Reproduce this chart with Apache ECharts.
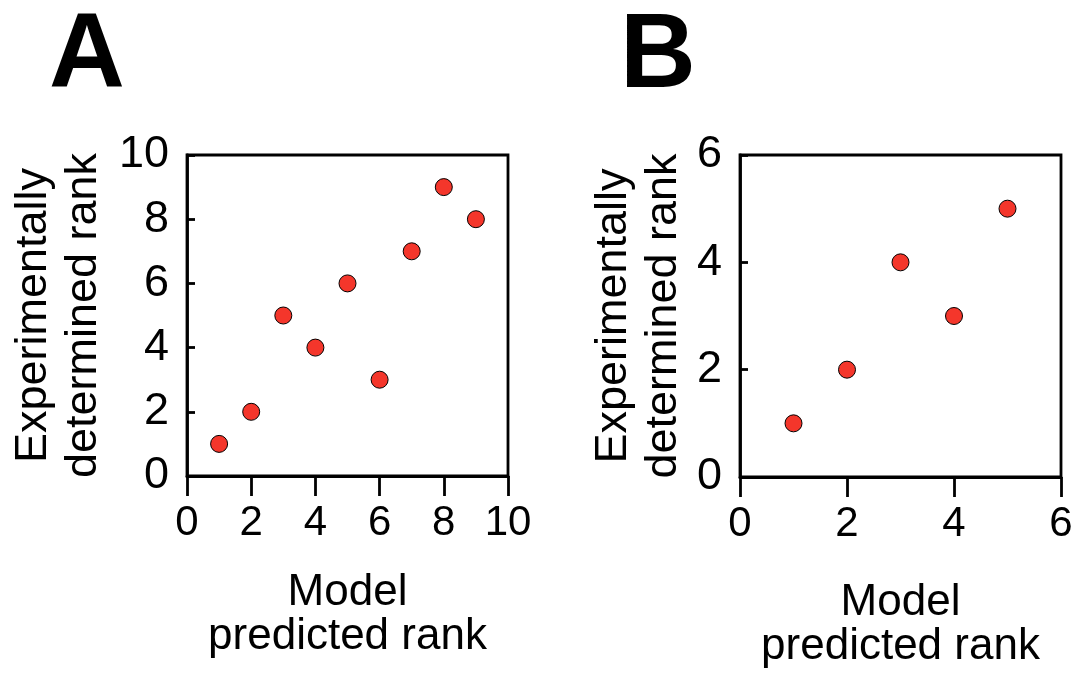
<!DOCTYPE html>
<html>
<head>
<meta charset="utf-8">
<script src="https://cdn.jsdelivr.net/npm/echarts@6/dist/echarts.min.js"></script>
<style>
  html, body { margin: 0; padding: 0; background: #fff; }
  #chart { width: 1078px; height: 674px; }
</style>
</head>
<body>
<div id="chart"></div>
<script>
// panel A: model predicted rank vs experimentally determined rank
const predictedA = [1, 2, 3, 4, 5, 6, 7, 8, 9]
const measuredA = [1, 2, 5, 4, 6, 3, 7, 9, 8]
// panel B
const predictedB = [1, 2, 3, 4, 5]
const measuredB = [1, 2, 4, 3, 5]

const panelLabels = ['A', 'B']
const xTitle = 'Model\npredicted rank'
const yTitle = 'Experimentally\ndetermined rank'

const font = 'Liberation Sans, Arial, sans-serif'
const dotColor = '#F4362B'

const chart = echarts.init(document.getElementById('chart'))

const xAxisFor = (gridIndex, max, gap) => ({
  gridIndex,
  type: 'value',
  min: 0,
  max,
  interval: 2,
  name: xTitle,
  nameLocation: 'middle',
  nameGap: gap,
  nameTextStyle: { fontFamily: font, fontSize: 44, lineHeight: 44, color: '#000' },
  axisLine: { show: true, onZero: false, lineStyle: { color: '#000', width: 2.8 } },
  axisTick: { show: true, inside: false, length: 20, lineStyle: { color: '#000', width: 2.8 } },
  axisLabel: { fontFamily: font, fontSize: 42, color: '#000', margin: 26 },
  splitLine: { show: false },
})

const yAxisFor = (gridIndex, max, gap) => ({
  gridIndex,
  type: 'value',
  min: 0,
  max,
  interval: 2,
  name: yTitle,
  nameLocation: 'middle',
  nameRotate: 90,
  nameGap: gap,
  nameTextStyle: { fontFamily: font, fontSize: 45, lineHeight: 50, color: '#000' },
  axisLine: { show: true, onZero: false, lineStyle: { color: '#000', width: 2.8 } },
  axisTick: { show: true, inside: true, length: 8, lineStyle: { color: '#000', width: 2.8 } },
  axisLabel: { fontFamily: font, fontSize: 45, color: '#000', margin: 18 },
  splitLine: { show: false },
})

const dots = (xs, ys, idx) => ({
  type: 'scatter',
  xAxisIndex: idx,
  yAxisIndex: idx,
  data: xs.map((x, i) => [x, ys[i]]),
  symbol: 'circle',
  symbolSize: 17,
  itemStyle: { color: dotColor, borderColor: '#000', borderWidth: 1, opacity: 1 },
})

const panelLabel = (text, x) => ({
  type: 'text', x, y: 58,
  style: {
    text,
    font: 'bold 105px "Liberation Sans", Arial, sans-serif',
    fill: '#000',
    align: 'center',
    verticalAlign: 'middle',
  },
})

chart.setOption({
  animation: false,
  backgroundColor: '#fff',
  grid: [
    { left: 187, top: 155, width: 321, height: 321, show: true, borderColor: '#000', borderWidth: 2.8 },
    { left: 740, top: 155, width: 321, height: 322, show: true, borderColor: '#000', borderWidth: 2.8 },
  ],
  xAxis: [xAxisFor(0, 10, 95), xAxisFor(1, 6, 104)],
  yAxis: [yAxisFor(0, 10, 78), yAxisFor(1, 6, 51)],
  series: [dots(predictedA, measuredA, 0), dots(predictedB, measuredB, 1)],
  graphic: [panelLabel(panelLabels[0], 87), panelLabel(panelLabels[1], 658)],
})

window.addEventListener('resize', () => chart.resize())
</script>
</body>
</html>
